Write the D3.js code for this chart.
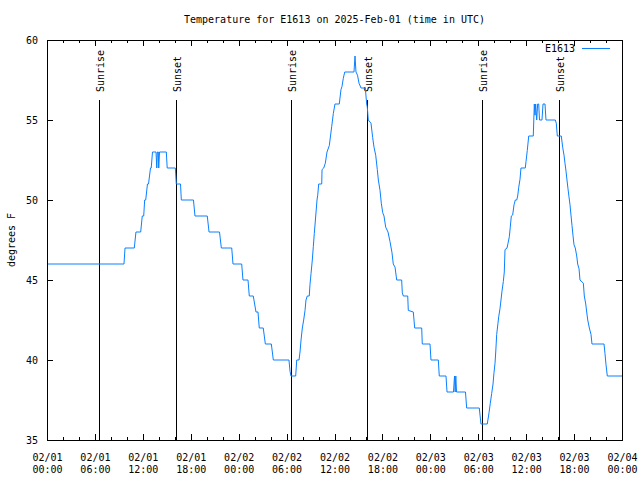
<!DOCTYPE html>
<html><head><meta charset="utf-8">
<script src="https://cdn.jsdelivr.net/npm/d3@7"></script>
<style>body{margin:0;background:#fff}svg{display:block}text{font-family:"DejaVu Sans Mono",monospace;font-size:10px;fill:#000}</style>
</head><body><svg id="c" width="640" height="480"></svg>
<script>
const chartTitle = "Temperature for E1613 on 2025-Feb-01 (time in UTC)";
const seriesName = "E1613";
const yAxisLabel = "degrees F";
const startUTC = "2025-02-01T00:00:00Z";
const endUTC = "2025-02-04T00:00:00Z";
const yTickValues = [35, 40, 45, 50, 55, 60];
// hours since 2025-02-01 00:00 UTC
const hoursSinceStart = [
  0, 9.64, 9.77, 10.93, 11.14, 11.73, 11.93, 12.11, 12.23, 12.36,
  12.58, 12.71, 12.96, 13.05, 13.21, 13.65, 13.75, 13.82, 13.94, 13.99,
  14.09, 14.94, 15.05, 16.07, 16.19, 16.72, 16.82, 18.34, 18.53, 20.07,
  20.29, 21.60, 21.83, 23.13, 23.29, 24.38, 24.54, 25.17, 25.33, 25.83,
  26.17, 26.42, 26.58, 27.08, 27.34, 28.09, 28.34, 30.30, 30.43, 30.55,
  31.14, 31.27, 31.56, 31.68, 31.81, 31.97, 32.14, 32.31, 32.43, 32.59,
  32.84, 32.93, 33.06, 33.22, 33.35, 33.47, 33.65, 33.81, 33.90, 34.02,
  34.40, 34.44, 34.65, 34.85, 35.06, 35.35, 35.65, 35.85, 36.06, 36.60,
  36.81, 36.94, 37.10, 37.28, 38.32, 38.44, 38.57, 38.69, 38.88, 39.07,
  39.32, 39.86, 40.03, 40.11, 40.23, 40.57, 40.78, 40.95, 41.16, 41.36,
  41.49, 41.70, 41.86, 42.04, 42.20, 42.41, 42.70, 42.95, 43.20, 43.36,
  43.58, 43.79, 44.41, 44.49, 44.62, 45.17, 45.24, 45.87, 46.04, 46.92,
  46.99, 47.96, 48.08, 49.00, 49.12, 49.96, 50.09, 50.90, 51.03, 51.11,
  51.19, 51.28, 52.40, 52.55, 54.13, 54.34, 55.13, 55.35, 55.51, 55.68,
  55.85, 55.97, 56.10, 56.19, 56.31, 56.47, 56.56, 56.72, 56.85, 56.97,
  57.14, 57.26, 57.35, 57.60, 57.73, 57.89, 58.01, 58.14, 58.31, 58.48,
  58.64, 58.82, 58.94, 59.07, 59.23, 59.35, 59.89, 59.98, 60.14, 60.32,
  60.89, 61.02, 61.11, 61.19, 61.32, 61.44, 61.57, 61.67, 61.98, 62.11,
  62.36, 62.48, 63.65, 63.77, 63.90, 64.40, 64.57, 64.74, 64.86, 64.99,
  65.11, 65.24, 65.36, 65.49, 65.61, 65.74, 65.86, 65.99, 66.15, 66.33,
  66.45, 66.62, 66.74, 67.16, 67.28, 67.46, 67.58, 67.71, 67.91, 68.12,
  68.24, 69.75, 69.87, 70.00, 70.16, 72
];
const tempF = [
  46, 46, 47, 47, 48, 48, 49, 49, 50, 50,
  51, 51, 52, 52, 53, 53, 52, 53, 53, 52,
  53, 53, 52, 52, 51, 51, 50, 50, 49, 49,
  48, 48, 47, 47, 46, 46, 45, 45, 44, 44,
  43, 43, 42, 42, 41, 41, 40, 40, 39.3, 39,
  39, 40, 40, 40.5, 41.25, 42, 42.5, 43.1, 43.75, 44,
  44, 44.7, 45.4, 46.25, 47.1, 47.9, 49, 50, 50.3, 51,
  51, 51.9, 52, 52.3, 53, 53.4, 54.6, 55.4, 56, 56,
  56.9, 57.1, 57.6, 58, 58, 58, 59, 58, 57.8, 57.3,
  57, 57, 56, 55.8, 55, 54.8, 53.9, 53.3, 52.8, 51.9,
  51.25, 50.6, 49.8, 49.2, 49, 48.3, 48, 47.4, 46.7, 46,
  45.8, 45, 45, 44.2, 44, 44, 43.1, 43, 42, 42,
  41, 41, 40, 40, 39, 39, 38, 38, 39, 38,
  39, 38, 38, 37, 37, 36, 36, 36.7, 37.3, 37.9,
  38.5, 39.2, 39.8, 40.5, 41.6, 42.3, 42.7, 43.2, 43.75, 44.3,
  44.9, 45.5, 46.9, 47, 47.3, 47.7, 48.3, 49, 49.06, 49.7,
  50, 50, 50.25, 50.8, 51.3, 52, 52, 52.4, 53.1, 54,
  54, 56, 55.3, 56, 55, 56, 56, 55, 55, 56,
  56, 55, 55, 54.8, 54, 54, 53.3, 52.8, 52.3, 51.8,
  51.25, 50.7, 50.2, 49.7, 49.06, 48.4, 47.8, 47.2, 47, 46.5,
  46, 45.7, 45, 44.8, 44, 43.5, 43, 42.5, 42, 41.6,
  41, 41, 40.4, 39.7, 39, 39
];
const sunEventHours = [6.55, 16.19, 30.58, 40.11, 54.52, 64.15];
const sunEventLabels = ["Sunrise", "Sunset", "Sunrise", "Sunset", "Sunrise", "Sunset"];

const svg = d3.select("#c");
const L = 47, R = 622, T = 40, B = 440;
const t0 = new Date(startUTC), t1 = new Date(endUTC);
const toDate = h => new Date(t0.getTime() + h * 3600e3);
const x = d3.scaleUtc().domain([t0, t1]).range([L, R]);
const y = d3.scaleLinear().domain([35, 60]).range([B, T]);

const majorTicks = d3.utcHour.every(6).range(t0, new Date(t1.getTime() + 1));
const minorTicks = d3.utcHour.every(2).range(t0, new Date(t1.getTime() + 1)).filter(d => d.getUTCHours() % 6 !== 0);
const fDate = d3.utcFormat("%m/%d"), fTime = d3.utcFormat("%H:%M");

svg.append("g").attr("transform", `translate(0,${B})`)
  .call(d3.axisBottom(x).tickValues(minorTicks).tickSizeInner(-3).tickSizeOuter(0).tickFormat(""))
  .call(g => g.select(".domain").remove());
svg.append("g").attr("transform", `translate(0,${T})`)
  .call(d3.axisTop(x).tickValues(minorTicks).tickSizeInner(-3).tickSizeOuter(0).tickFormat(""))
  .call(g => g.select(".domain").remove());
svg.append("g").attr("transform", `translate(0,${T})`)
  .call(d3.axisTop(x).tickValues(majorTicks).tickSizeInner(-6).tickSizeOuter(0).tickFormat(""))
  .call(g => g.select(".domain").remove());

const xAxis = svg.append("g").attr("transform", `translate(0,${B})`)
  .call(d3.axisBottom(x).tickValues(majorTicks).tickSizeInner(-6).tickSizeOuter(0).tickFormat(fDate))
  .call(g => g.select(".domain").remove());
xAxis.selectAll(".tick text").each(function(d) {
  const t = d3.select(this).attr("dy", null).attr("y", null).text(null);
  t.append("tspan").attr("x", 0).attr("y", 21).text(fDate(d));
  t.append("tspan").attr("x", 0).attr("y", 33).text(fTime(d));
});

svg.append("g").attr("transform", `translate(${L},0)`)
  .call(d3.axisLeft(y).tickValues(yTickValues).tickSizeInner(-6).tickSizeOuter(0).tickPadding(9).tickFormat(d3.format("d")))
  .call(g => g.select(".domain").remove());
svg.append("g").attr("transform", `translate(${R},0)`)
  .call(d3.axisRight(y).tickValues(yTickValues).tickSizeInner(-6).tickSizeOuter(0).tickFormat(""))
  .call(g => g.select(".domain").remove());

svg.selectAll(".tick line").attr("stroke", "#000").attr("shape-rendering", "crispEdges");
svg.selectAll(".tick text").style("font-family", '"DejaVu Sans Mono",monospace').style("font-size", "10px").attr("fill", "#000");

const sun = svg.append("g");
sunEventHours.forEach((h, i) => {
  const xp = x(toDate(h));
  sun.append("line").attr("x1", xp).attr("x2", xp).attr("y1", 100).attr("y2", B)
    .attr("stroke", "#000").attr("shape-rendering", "crispEdges");
  sun.append("text").attr("transform", `translate(${xp + 5},92) rotate(-90)`)
    .attr("text-anchor", "start").text(sunEventLabels[i]);
});

const pts = hoursSinceStart.map((h, i) => [toDate(h), tempF[i]]);
svg.append("path").datum(pts)
  .attr("fill", "none").attr("stroke", "#0a80ff").attr("stroke-width", 1)
  .attr("d", d3.line().x(d => x(d[0])).y(d => y(d[1])));

svg.append("rect").attr("x", L).attr("y", T).attr("width", R - L).attr("height", B - T)
  .attr("fill", "none").attr("stroke", "#000").attr("shape-rendering", "crispEdges");

svg.append("text").attr("x", (L + R) / 2).attr("y", 23).attr("text-anchor", "middle").text(chartTitle);
svg.append("text").attr("transform", "translate(15,240) rotate(-90)").attr("text-anchor", "middle").text(yAxisLabel);
svg.append("text").attr("x", 575).attr("y", 52).attr("text-anchor", "end").text(seriesName);
svg.append("line").attr("x1", 582).attr("x2", 610).attr("y1", 48).attr("y2", 48)
  .attr("stroke", "#0a80ff").attr("stroke-width", 1).attr("shape-rendering", "crispEdges");
</script></body></html>
